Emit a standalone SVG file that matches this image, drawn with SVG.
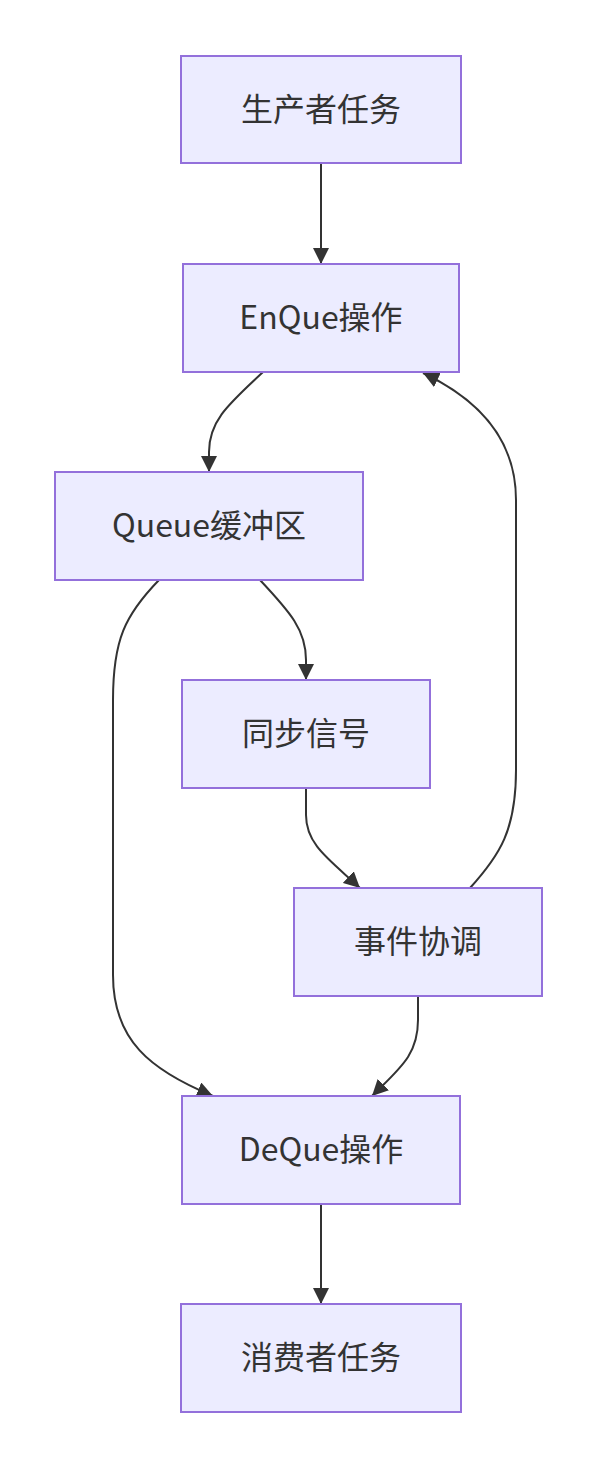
<svg xmlns="http://www.w3.org/2000/svg" width="598" height="1468" viewBox="0 0 598 1468">
<style>
.node rect{fill:#ECECFF;stroke:#9370DB;stroke-width:2}
.node text{font-family:"Noto Sans CJK SC","Noto Sans",sans-serif;font-size:32px;fill:#333;text-anchor:middle;dominant-baseline:central}
.edge{fill:none;stroke:#333;stroke-width:2}
</style>
<defs>
<marker id="arrow" viewBox="0 0 10 10" refX="10" refY="5" markerUnits="userSpaceOnUse" markerWidth="16" markerHeight="16" orient="auto">
<path d="M0,0 L10,5 L0,10 z" fill="#333"/>
</marker>
</defs>
<rect width="598" height="1468" fill="#ffffff"/>
<g id="connectors">
<path class="edge" marker-end="url(#arrow)" d="M321,164 L321,264"/>
<path class="edge" marker-end="url(#arrow)" d="M263,372 C230,403 209,420 209,452 L209,472"/>
<path class="edge" marker-end="url(#arrow)" d="M260,580 C290,612 306,630 306,660 L306,680"/>
<path class="edge" marker-end="url(#arrow)" d="M159,580 C125,615 113,640 113,700 L113,975 C113,1040 150,1070 213,1096"/>
<path class="edge" marker-end="url(#arrow)" d="M306,788 L306,815 C306,845 330,860 360,888"/>
<path class="edge" marker-end="url(#arrow)" d="M470,888 C500,855 516,830 516,770 L516,500 C516,440 480,400 423,373"/>
<path class="edge" marker-end="url(#arrow)" d="M418,996 L418,1020 C418,1055 400,1068 372,1096"/>
<path class="edge" marker-end="url(#arrow)" d="M321,1204 L321,1304"/>
</g>
<g id="producer" class="node"><rect x="181" y="56" width="280" height="107"/><text x="321" y="107">生产者任务</text></g>
<g id="enque" class="node"><rect x="183" y="264" width="276" height="108"/><text x="321" y="315">EnQue操作</text></g>
<g id="queue" class="node"><rect x="55" y="472" width="308" height="108"/><text x="209" y="523">Queue缓冲区</text></g>
<g id="sync" class="node"><rect x="182" y="680" width="248" height="108"/><text x="306" y="731">同步信号</text></g>
<g id="event" class="node"><rect x="294" y="888" width="248" height="108"/><text x="418" y="939">事件协调</text></g>
<g id="deque" class="node"><rect x="182" y="1096" width="278" height="108"/><text x="321" y="1147">DeQue操作</text></g>
<g id="consumer" class="node"><rect x="181" y="1304" width="280" height="108"/><text x="321" y="1355">消费者任务</text></g>
</svg>
